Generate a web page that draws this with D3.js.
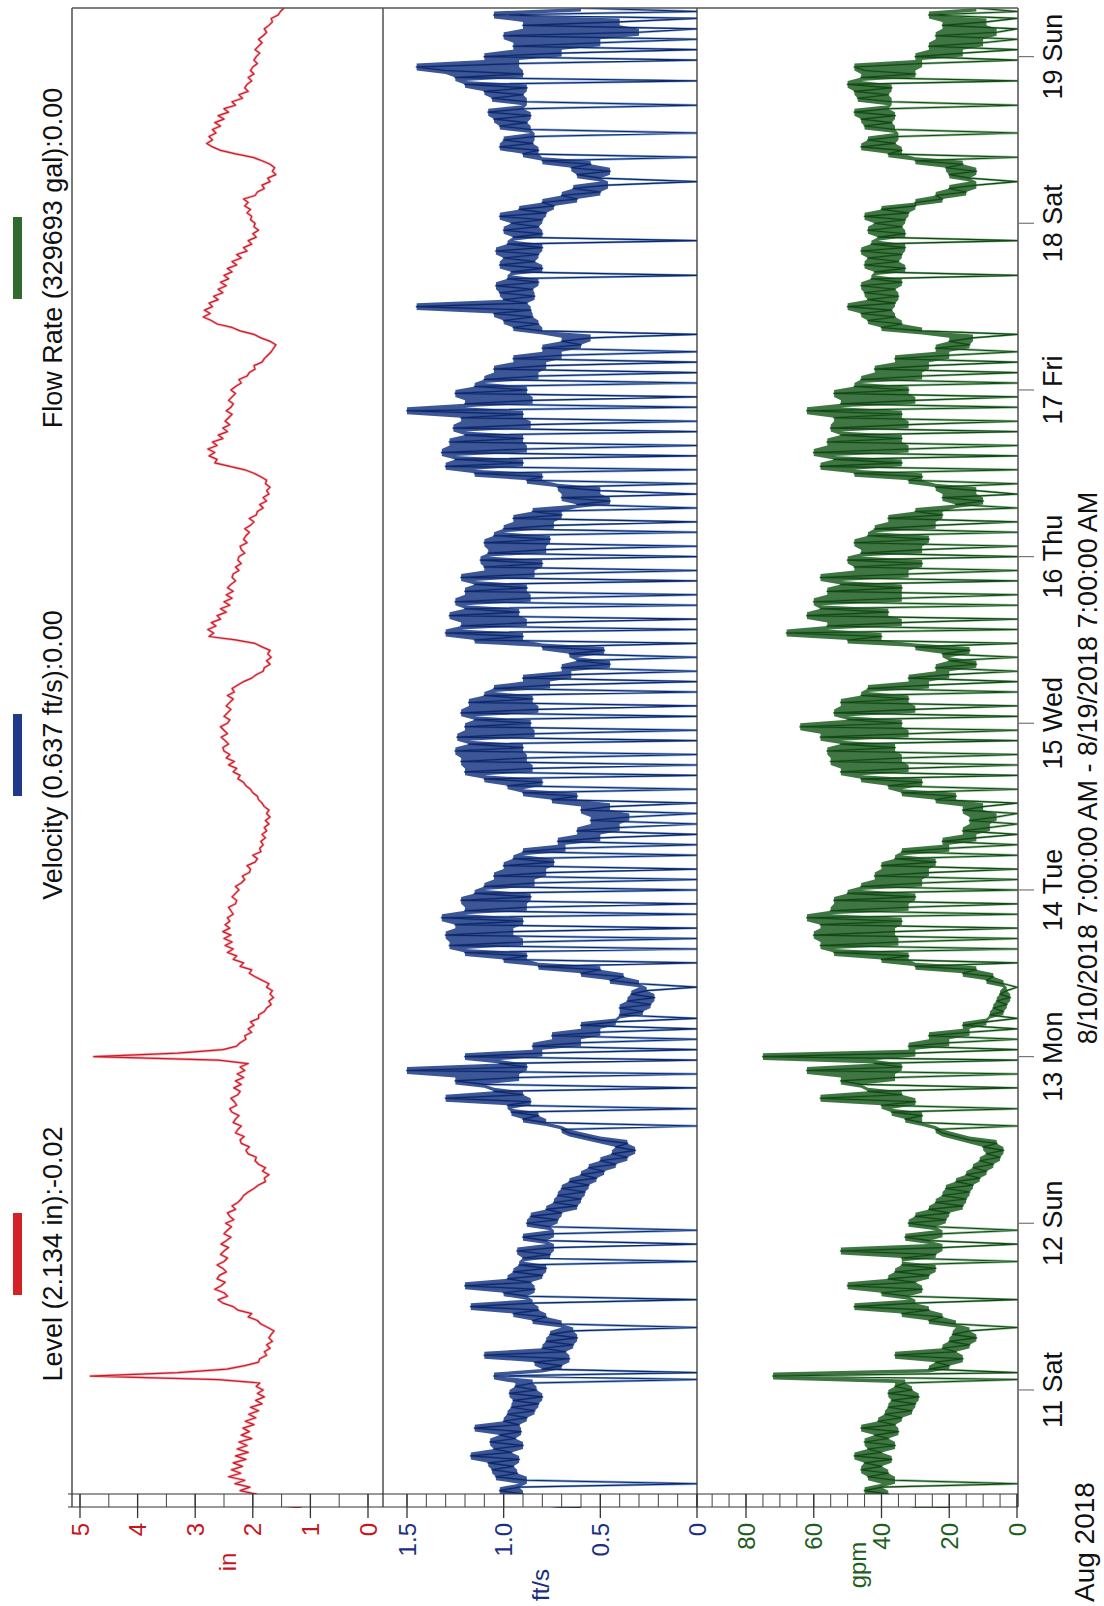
<!DOCTYPE html>
<html><head><meta charset="utf-8">
<script src="https://cdn.jsdelivr.net/npm/d3@7"></script>
<style>html,body{margin:0;padding:0;background:#fff;} svg{display:block;font-family:"Liberation Sans",Arial,sans-serif;}</style>
</head><body><script>
// ---- data: 30-minute samples from 8/10/2018 7:00 AM to 8/19/2018 7:00 AM ----
const levelIn = [
1.15,1.72,1.86,2.12,1.94,2.22,2.05,2.31,2.14,2.42,2.21,2.37,2.18,2.34,2.12,2.3,2.08,2.27,2.1,2.24,2.02,2.2,2.06,2.17,
1.98,2.13,1.95,2.07,1.9,2.04,1.84,1.95,1.8,1.92,1.82,1.94,1.88,2.6,4.82,3.3,2.45,2.14,1.9,1.88,1.76,1.8,1.7,1.76,
1.66,1.72,1.68,1.63,1.74,1.86,1.92,2.08,2.02,2.26,2.34,2.52,2.6,2.44,2.5,2.66,2.55,2.48,2.62,2.58,2.46,2.52,2.62,2.5,
2.44,2.56,2.5,2.42,2.55,2.46,2.38,2.5,2.44,2.37,2.47,2.33,2.4,2.44,2.3,2.36,2.26,2.2,2.16,2.08,1.98,1.9,1.78,1.8,
1.72,1.83,1.78,1.9,1.96,1.94,2.08,2.12,2.06,2.2,2.22,2.15,2.3,2.26,2.2,2.34,2.3,2.24,2.36,2.4,2.28,2.32,2.38,2.26,
2.22,2.33,2.2,2.3,2.16,2.27,2.14,2.22,2.08,2.6,4.76,3.3,2.52,2.28,2.22,2.12,2.14,2.02,2.08,1.98,2.04,1.9,1.9,1.8,
1.76,1.68,1.72,1.64,1.7,1.66,1.76,1.72,1.84,1.96,2.06,2.02,2.22,2.16,2.34,2.28,2.44,2.34,2.48,2.36,2.5,2.38,2.52,2.4,
2.48,2.4,2.44,2.34,2.38,2.42,2.3,2.28,2.36,2.3,2.24,2.3,2.2,2.14,2.18,2.06,2.04,2.1,1.96,1.92,2.0,1.86,1.88,1.82,
1.86,1.78,1.84,1.76,1.8,1.72,1.78,1.7,1.76,1.72,1.8,1.84,1.9,1.92,2.0,2.04,2.12,2.16,2.26,2.22,2.34,2.28,2.42,2.32,
2.46,2.4,2.5,2.52,2.42,2.48,2.55,2.44,2.5,2.56,2.44,2.4,2.5,2.44,2.38,2.46,2.4,2.34,2.44,2.32,2.36,2.26,2.16,2.02,
1.94,1.82,1.8,1.7,1.76,1.68,1.74,1.7,1.84,1.96,2.3,2.76,2.68,2.78,2.64,2.72,2.56,2.62,2.46,2.56,2.4,2.5,2.36,2.46,
2.34,2.44,2.38,2.3,2.36,2.34,2.24,2.3,2.2,2.26,2.24,2.14,2.2,2.22,2.1,2.16,2.12,2.06,2.14,2.04,1.98,2.06,1.94,1.92,
1.82,1.88,1.76,1.82,1.72,1.76,1.7,1.78,1.76,1.86,1.98,2.14,2.4,2.66,2.62,2.76,2.66,2.78,2.62,2.7,2.52,2.6,2.44,2.52,
2.4,2.48,2.42,2.36,2.46,2.38,2.34,2.42,2.36,2.3,2.38,2.3,2.2,2.24,2.1,2.06,1.96,1.98,1.84,1.8,1.74,1.68,1.64,1.6,
1.7,1.86,1.98,2.22,2.36,2.62,2.72,2.86,2.74,2.84,2.7,2.76,2.6,2.68,2.52,2.6,2.46,2.56,2.42,2.5,2.36,2.44,2.28,2.36,
2.2,2.28,2.1,2.16,2.02,2.08,1.94,2.0,1.9,1.98,1.96,2.04,2.02,2.1,2.04,2.14,2.08,2.16,1.96,1.92,1.8,1.84,1.7,1.74,
1.6,1.66,1.62,1.7,1.84,2.0,2.3,2.56,2.7,2.8,2.7,2.76,2.64,2.7,2.56,2.66,2.5,2.6,2.42,2.5,2.3,2.36,2.18,2.24,
2.08,2.14,2.1,2.02,2.08,1.98,2.04,2.0,1.92,1.98,1.94,1.88,1.96,1.9,1.84,1.9,1.82,1.76,1.8,1.72,1.66,1.68,1.56,1.52,
1.46];

const velocityFts = [
0.6,0.72,0.86,0.98,0.9,1.02,0.92,0,0.88,1.04,0.93,1.06,0.95,1.08,0.92,1.17,0.96,1.05,0.9,1.07,0.94,1.02,0.91,1.15,
0.92,1.0,0.88,0.98,0.84,0.96,0.82,0.95,0.8,0.97,0.83,0.94,0.85,0,1.05,0,0.8,0.7,0.84,0.66,1.1,0.68,0.8,0.64,
0.78,0.62,0.76,0.64,0,0.7,0.85,0.78,0.95,0.82,1.17,0.85,0,0.88,1.0,0.84,1.2,0.86,0.98,0.8,0.95,0.78,0.92,0,
0.9,0.76,0.93,0.74,0,0.78,0.9,0.74,0,0.76,0.88,0.72,0.86,0.7,0.78,0.62,0.74,0.6,0.72,0.58,0.7,0.56,0.66,0.52,
0.6,0.48,0.56,0.42,0.5,0.36,0.44,0.32,0.42,0.36,0.5,0.58,0.66,0.7,0,0.78,0.9,0.82,0.96,0,0.98,0.86,1.3,0.9,
1.05,0,1.1,1.25,0.92,0,1.5,0.88,1.02,0,1.2,0.8,0,0.85,0.6,0,0.75,0.5,0,0.6,0.42,0,0.4,0.28,
0.4,0.24,0.36,0.22,0.34,0.26,0,0.3,0.45,0.38,0.6,0.5,0.82,0,1.0,0.88,1.2,0,1.28,0.9,0,1.3,0.95,0,
1.25,0.9,1.32,0,1.2,0.88,0,1.22,0.86,1.15,0,1.1,0.84,0,1.05,0.78,0,1.0,0.74,0.95,0,0.9,0.68,0,
0.72,0.5,0,0.62,0.4,0,0.55,0.35,0,0.6,0.45,0,0.75,0.62,0.9,0,0.98,0.8,1.1,0,1.2,0.85,0,1.22,
0.88,0,1.25,0.9,1.18,0,1.24,0.84,0,1.2,0.86,1.15,0,1.22,0.82,0,1.18,0.85,1.1,0,1.05,0.76,0,0.9,
0.65,0,0.7,0.45,0.62,0,0.66,0.48,0.8,0,1.15,0.9,1.3,0,1.22,0.88,0,1.28,0.92,1.2,0,1.25,0.86,0,
1.2,0.88,1.15,0,1.22,0.84,0,1.1,0.8,1.12,0,1.08,0.78,0,1.1,0.76,1.05,0,1.0,0.74,0,0.95,0.7,0.85,
0,0.62,0.45,0.7,0,0.5,0.72,0,0.88,0.8,1.15,0,1.3,0.9,1.25,0,1.32,0.88,0,1.28,0.9,1.2,0,1.26,
0.86,0,1.22,0.9,1.5,0,1.2,0.85,0,1.25,0.88,1.15,0,1.1,0.82,0,1.05,0.78,0,0.95,0.7,0,0.8,0.6,
0.7,0.55,0,0.8,0.95,0.82,1.0,0.85,1.05,0.86,1.45,0.88,1.0,0.84,1.02,0.85,1.04,0.82,0.98,0,0.96,0.8,1.02,0.84,
1.0,0.82,1.04,0.8,0.98,0,0.95,0.8,1.0,0.82,0.96,0.8,1.02,0.78,0.92,0.74,0.8,0.62,0.7,0.5,0.64,0.46,0,0.5,
0.62,0.45,0.65,0.55,0.8,0,0.9,0.82,1.02,0.85,1.0,0.84,0,0.86,1.02,0.88,1.05,0.86,1.08,0.9,0,0.88,1.06,0.9,
1.1,0.88,1.2,0,1.25,0.9,1.3,1.45,0.92,0,1.1,0.7,0,0.95,0.5,0,1.0,0.3,0,0.9,0.4,0,1.05,0,
0.6];

const flowGpm = [
20,30,36,44,38,45,40,0,36,44,38,46,40,45,37,48,40,44,36,45,38,42,35,46,
36,41,34,39,31,38,30,37,29,38,31,36,33,0,72,0,26,20,24,16,36,18,22,14,
20,12,19,14,0,18,26,22,34,26,48,30,0,32,40,28,50,30,38,26,36,24,34,0,
34,24,52,22,0,26,33,22,0,24,32,21,30,20,26,16,24,15,22,14,21,13,18,11,
15,9,13,7,11,5,9,4,10,6,14,18,22,24,0,28,33,28,37,0,40,30,58,34,
44,0,46,52,36,0,62,34,42,0,75,30,0,32,20,0,26,14,0,16,9,0,8,4,
7,3,6,2,5,3,0,4,9,7,16,12,30,0,40,32,54,0,58,35,0,60,36,0,
58,34,62,0,55,32,0,54,30,50,0,46,28,0,42,26,0,40,24,36,0,34,20,0,
22,12,0,16,8,0,14,6,0,16,10,0,24,18,34,0,38,28,46,0,52,32,0,55,
34,0,56,36,52,0,58,32,0,64,34,50,0,54,30,0,52,32,46,0,44,26,0,32,
20,0,24,12,20,0,22,14,30,0,50,40,68,0,56,34,0,62,38,58,0,60,34,0,
56,34,52,0,58,32,0,48,28,50,0,46,28,0,48,26,44,0,42,24,0,38,22,30,
0,18,10,22,0,12,24,0,32,28,48,0,58,34,54,0,60,32,0,56,34,52,0,55,
32,0,54,34,62,0,52,30,0,54,32,48,0,46,28,0,42,26,0,36,20,0,24,14,
20,13,0,28,40,34,44,36,46,37,50,36,44,35,45,36,46,34,43,0,42,33,45,35,
44,34,46,33,43,0,41,33,44,34,42,33,45,32,40,30,30,22,24,15,20,12,0,14,
20,12,21,16,30,0,38,34,46,36,44,35,0,36,45,37,46,36,48,38,0,37,47,38,
48,37,50,0,46,30,45,48,28,0,30,16,0,26,10,0,24,6,0,22,9,0,26,0,
12];

const dayLabels = ["11 Sat","12 Sun","13 Mon","14 Tue","15 Wed","16 Thu","17 Fri","18 Sat","19 Sun"];
const legendLabels = ["Level (2.134 in):-0.02","Velocity (0.637 ft/s):0.00","Flow Rate (329693 gal):0.00"];
const levelTicks = [0,1,2,3,4,5];
const velocityTicks = [0,0.5,1.0,1.5];
const flowTicks = [0,20,40,60,80];
const unitLabels = ["in","ft/s","gpm"];
const periodLabel = "8/10/2018 7:00:00 AM - 8/19/2018 7:00:00 AM";
const monthLabel = "Aug 2018";

// ---- drawing (landscape chart rotated -90deg onto the portrait page) ----
const W=1104,H=1606;
const svg=d3.select("body").append("svg").attr("width",W).attr("height",H);
svg.append("rect").attr("width",W).attr("height",H).attr("fill","#fff");
const g=svg.append("g").attr("transform",`translate(0,${H}) rotate(-90)`);

const t0=new Date(2018,7,10,7,0,0), t1=new Date(2018,7,19,7,0,0);
const x=d3.scaleTime().domain([t0,t1]).range([98,1598]);
const tAt=i=>d3.timeMinute.offset(t0,30*i);

const panels=[
  {id:"lvl",data:levelIn,y:d3.scaleLinear().domain([0,5]).range([368,80]),top:72,bot:383,band:null,
   line:"#cc1a28",halo:"#f3a3aa",hw:2.6,lw:1.2,lab:"#c8141e",minor:d3.range(0,5.01,0.5),major:levelTicks,fmt:d3.format("d"),unit:unitLabels[0],unitX:44,legend:legendLabels[0],bar:"#d42027"},
  {id:"vel",data:velocityFts,y:d3.scaleLinear().domain([0,1.5]).range([697,407]),top:383,bot:697,band:"#213f88",
   line:"#0f2766",halo:"#6f98d2",hw:2.4,lw:1.1,lab:"#1a2f80",minor:d3.range(0,1.501,0.1),major:velocityTicks,fmt:d=>d===0?"0":d3.format(".1f")(d),unit:unitLabels[1],unitX:21,legend:legendLabels[1],bar:"#1f3a8a"},
  {id:"flw",data:flowGpm,y:d3.scaleLinear().domain([0,80]).range([1017,746]),top:697,bot:1018,band:"#25632a",
   line:"#134716",halo:"#7db27f",hw:2.4,lw:1.1,lab:"#1d5e1d",minor:d3.range(0,90.1,5),major:flowTicks,fmt:d3.format("d"),unit:unitLabels[2],unitX:41,legend:legendLabels[2],bar:"#2f6a2f"}
];

const legendCenters=[352,851,1348];

panels.forEach((p,pi)=>{
  g.append("clipPath").attr("id","clip-"+p.id).append("rect")
    .attr("x",98).attr("y",p.top).attr("width",1500).attr("height",p.bot-p.top);
  const gg=g.append("g").attr("clip-path",`url(#clip-${p.id})`);
  const ln=d3.line().x((d,i)=>x(tAt(i))).y(d=>p.y(d));
  gg.append("path").attr("d",ln(p.data)).attr("fill","none").attr("stroke",p.halo)
    .attr("stroke-width",p.hw).attr("stroke-opacity",0.85).attr("stroke-linejoin","round");
  if(p.band){
    // envelope of neighbouring samples (dense band look of the logger plot)
    const env=p.data.map((d,i)=>{
      const w=p.data.slice(Math.max(0,i-1),i+2).filter(v=>v>0);
      return w.length?[d3.min(w),d3.max(w)]:null;});
    const ar=d3.area().defined(d=>d).x((d,i)=>x(tAt(i))).y0(d=>p.y(d[0])).y1(d=>p.y(d[1]));
    gg.append("path").attr("d",ar(env)).attr("fill",p.band).attr("fill-opacity",0.88);
  }
  gg.append("path").attr("d",ln(p.data)).attr("fill","none").attr("stroke",p.line)
    .attr("stroke-width",p.lw).attr("stroke-linejoin","round");
});

// value-axis ruler band (covers the first samples, as in the reference)
g.append("rect").attr("x",99).attr("y",68).attr("width",13).attr("height",950).attr("fill","#fff");
[99,112].forEach(bx=>g.append("line").attr("x1",bx).attr("x2",bx).attr("y1",68).attr("y2",1018)
  .attr("stroke","#333").attr("stroke-width",1.2));

panels.forEach((p,pi)=>{
  const ax=g.append("g");
  ax.selectAll("line.minor").data(p.minor).join("line")
    .attr("x1",99).attr("x2",112).attr("y1",d=>p.y(d)).attr("y2",d=>p.y(d))
    .attr("stroke","#444").attr("stroke-width",1);
  ax.selectAll("line.major").data(p.major).join("line")
    .attr("x1",88).attr("x2",112).attr("y1",d=>p.y(d)).attr("y2",d=>p.y(d))
    .attr("stroke","#333").attr("stroke-width",1.3);
  ax.selectAll("text.tl").data(p.major).join("text")
    .attr("x",83).attr("y",d=>p.y(d)).attr("text-anchor","end").attr("dominant-baseline","central")
    .attr("font-size",24).attr("fill",p.lab).text(p.fmt);
  ax.append("text").attr("x",p.unitX).attr("y",(p.top+p.bot)/2).attr("text-anchor","middle")
    .attr("dominant-baseline","central").attr("font-size",24).attr("fill",p.lab).text(p.unit);
  // legend
  const cx=legendCenters[pi];
  g.append("rect").attr("x",cx-41).attr("y",13).attr("width",82).attr("height",9).attr("fill",p.bar);
  g.append("text").attr("x",cx).attr("y",62).attr("text-anchor","middle").attr("font-size",27)
    .attr("fill","#111").text(p.legend);
});

// frame and panel dividers
[72,383,697,1018].forEach(yy=>g.append("line").attr("x1",99).attr("x2",1598).attr("y1",yy).attr("y2",yy)
  .attr("stroke","#333").attr("stroke-width",1.3));
g.append("line").attr("x1",1598).attr("x2",1598).attr("y1",72).attr("y2",1018).attr("stroke","#555").attr("stroke-width",1.3);

// time axis
const days=d3.timeDay.range(d3.timeDay.ceil(t0),d3.timeSecond.offset(t1,1));
const ta=g.append("g");
ta.selectAll("line").data(days).join("line")
  .attr("x1",d=>x(d)).attr("x2",d=>x(d)).attr("y1",1018).attr("y2",1034)
  .attr("stroke","#777").attr("stroke-width",1.2);
ta.selectAll("text").data(days).join("text")
  .attr("x",d=>x(d)).attr("y",1062).attr("text-anchor","middle").attr("font-size",27)
  .attr("fill","#111").text((d,i)=>dayLabels[i]);
g.append("text").attr("x",(x.range()[0]+x.range()[1])/2-10).attr("y",1097).attr("text-anchor","middle")
  .attr("font-size",27).attr("fill","#111").text(periodLabel);
g.append("text").attr("x",4).attr("y",1094).attr("text-anchor","start")
  .attr("font-size",28).attr("fill","#111").text(monthLabel);
</script></body></html>
